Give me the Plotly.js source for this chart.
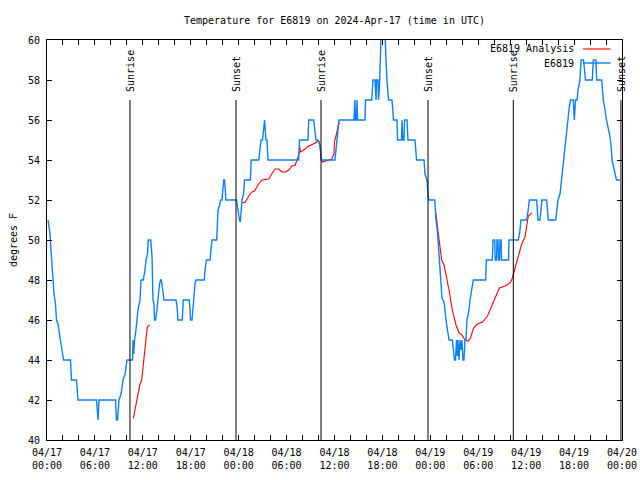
<!DOCTYPE html>
<html>
<head>
<meta charset="utf-8">
<script src="https://cdn.plot.ly/plotly-3.0.1.min.js"></script>
<style>html,body{margin:0;padding:0;background:#fff;}#chart{width:640px;height:480px;}</style>
</head>
<body>
<div id="chart"></div>
<script>
// ---- data (hours since 2024-04-17 00:00 UTC, degrees F) ----
const obsName = "E6819";
const anaName = "E6819 Analysis";

const obsHours = [0.13,0.25,0.38,0.50,0.63,0.75,0.88,1.06,1.19,1.38,1.57,1.75,2.00,2.07,2.94,3.07,3.69,3.88,6.20,6.30,6.39,6.51,8.58,8.70,8.83,9.02,9.27,9.52,9.77,10.02,10.64,10.71,10.77,10.86,10.96,11.14,11.39,11.65,11.77,12.06,12.27,12.40,12.58,12.68,12.99,13.15,13.27,13.40,13.46,13.59,13.77,13.90,14.09,14.21,14.31,14.46,14.59,14.65,16.15,16.28,16.40,16.94,17.07,17.82,17.91,17.97,18.16,18.28,18.41,18.53,18.66,19.70,19.78,19.97,20.41,20.54,20.66,21.25,21.31,21.41,21.60,21.73,21.91,22.00,22.13,22.23,22.33,22.41,23.73,23.85,23.98,24.10,24.20,24.35,24.42,24.61,24.73,25.46,25.57,26.51,26.61,26.80,26.98,27.08,27.17,27.25,27.33,27.42,27.55,27.67,31.52,31.62,32.68,32.77,33.39,33.56,33.68,33.93,34.12,34.25,34.35,36.06,36.25,36.44,36.56,38.44,38.54,38.63,38.75,38.82,38.89,39.82,39.88,40.66,40.82,41.07,41.20,41.26,41.45,41.51,41.61,41.74,41.82,41.89,42.26,42.32,42.45,42.57,42.76,43.20,43.39,43.83,43.89,44.39,44.45,44.55,44.70,44.77,45.08,45.20,46.08,46.27,47.21,47.33,47.58,47.71,47.83,48.55,48.71,48.90,49.08,49.27,49.46,49.71,49.96,50.27,50.34,50.75,50.93,51.03,51.15,51.28,51.38,51.46,51.59,51.71,51.84,51.96,52.09,52.21,52.34,52.46,52.59,52.84,52.97,53.22,53.38,54.93,55.01,55.76,55.85,56.06,56.12,56.29,56.35,56.47,56.54,56.66,56.73,56.85,56.91,57.79,57.85,59.02,59.17,59.35,60.07,60.32,60.39,61.32,61.48,61.73,61.98,62.57,62.77,63.70,63.99,64.24,64.42,64.61,64.80,64.93,65.11,65.18,65.36,65.55,65.90,66.03,66.18,66.37,66.49,66.74,66.87,67.18,67.30,67.43,68.28,68.41,68.74,68.83,69.46,69.66,69.87,70.06,70.43,70.62,70.75,71.00,71.31,71.75];
const obsTemp = [51,50.7,50.3,49.5,48.7,48,47.3,46.8,46,45.8,45.2,44.8,44.2,44,44,43,43,42,42,41,41,42,42,41,41,42,42.3,43,43.3,44,44,44,45,44.3,45,45.5,46.5,47,48,48,48.5,49,49.3,50,50,49.2,47,46.8,46,46,46.5,47.2,47.8,48,48,47.6,47.2,47,47,46.7,46,46,47,47,46.5,46,46,46.7,47.3,47.8,48,48,48.5,49,49,49.5,50,50,51,51.5,51.7,52,52,52.5,53,53,52.5,52,52,51.7,51.2,51,50.9,51.8,52,52.3,53,53,54,54,54.5,55,55,55.5,56,56,55.5,55,55,54,54,55,55,56,56,55.3,55,55,54.8,54.5,54,54,54.8,55.5,56,56,57,56,56,57,56,56,57,57,58,58,57,58,58,57,57.5,59,60,61,61,60,59,58,57,57,56,56,55,55,56,55,55,56,56,55,55,54,54,53.3,53,52.2,52,52,51,50.4,49.5,48.2,47.1,46.9,46,45.2,45,45,44.3,44,44,45,44.2,45,44,45,44.5,45,44,44,45,45,46,46.5,47,47.5,48,48,49,49,50,50,49,49,50,50,49,49,50,50,49,49,50,50,50.3,51,51,51.7,52,52,51,51,52,52,51,51,52,52.3,53,53.5,54.3,55,55.5,56,56.5,57,57,56,57,57,57.5,58,59,59,58.5,58,58,59,59,58,58,57,56.5,56,55.3,54.8,54,53.5,53,53];

const anaHours = [10.81,11.02,11.23,11.43,11.65,11.86,11.98,12.11,12.27,12.40,12.56,12.90,null,24.42,24.83,25.26,25.67,25.98,26.42,26.92,27.76,28.14,28.39,28.55,29.01,29.43,29.84,30.27,30.68,31.09,31.30,31.52,31.64,31.72,31.93,32.34,32.56,33.18,33.60,33.93,34.12,34.25,34.35,34.50,34.85,35.19,35.65,35.94,36.00,36.19,36.50,36.69,null,48.67,48.90,49.15,49.42,49.71,50.05,50.34,50.75,51.21,51.59,51.96,52.34,52.72,53.03,53.41,53.91,54.53,55.16,55.72,56.16,56.64,57.35,57.98,58.23,58.60,59.02,59.44,59.85,60.07,60.27,60.69];
const anaTemp = [41.08,41.5,41.9,42.33,42.8,43,43.5,44,44.67,45.33,45.67,45.75,null,51.85,51.9,52.2,52.4,52.45,52.75,53,53.05,53.3,53.5,53.55,53.55,53.4,53.4,53.5,53.7,53.75,54,54.25,54.7,54.4,54.45,54.55,54.65,54.75,54.85,54.95,54.9,54.4,54.0,53.9,53.95,54.0,54.05,54.3,54.95,55.2,55.8,55.85,null,51.4,50.7,50,49,48.75,48.1,47.5,46.5,45.75,45.35,45.25,45.0,44.95,45.1,45.6,45.8,45.9,46.2,46.7,47.1,47.6,47.7,47.85,48.05,48.6,49.1,49.8,50.15,50.7,51.2,51.35];

const sunEvents = ["Sunrise","Sunset","Sunrise","Sunset","Sunrise","Sunset"];
const sunHours = [10.39,23.67,34.31,47.71,58.39,71.87];
const sunLineTop = 57;

const titleText = "Temperature for E6819 on 2024-Apr-17 (time in UTC)";
const yTitle = "degrees F";

// ---- helpers ----
const base = Date.UTC(2024,3,17,0,0,0);
function pad(n){return (n<10?"0":"")+n;}
function toDate(h){
  if(h===null) return null;
  const d = new Date(base + Math.round(h*3600)*1000);
  return d.getUTCFullYear()+"-"+pad(d.getUTCMonth()+1)+"-"+pad(d.getUTCDate())+" "+pad(d.getUTCHours())+":"+pad(d.getUTCMinutes())+":"+pad(d.getUTCSeconds());
}

const font = {family:"DejaVu Sans Mono, monospace", size:10, color:"#000"};
const blue = "#0a80ff";
const red = "#ff0000";

const traces = [
  {x: anaHours.map(toDate), y: anaTemp, name: anaName, type:"scatter", mode:"lines",
   line:{color:red, width:1.1}, connectgaps:false, showlegend:false, cliponaxis:true},
  {x: obsHours.map(toDate), y: obsTemp, name: obsName, type:"scatter", mode:"lines",
   line:{color:blue, width:1.4}, showlegend:false, cliponaxis:true}
];

const shapes = [];
const annotations = [];
sunHours.forEach((h,i)=>{
  shapes.push({type:"line", xref:"x", yref:"y", x0:toDate(h), x1:toDate(h), y0:40, y1:sunLineTop,
    line:{color:"#000", width:1}, layer:"above"});
  annotations.push({xref:"x", yref:"y", x:toDate(h), y:sunLineTop, text:sunEvents[i], textangle:-90,
    showarrow:false, xanchor:"center", yanchor:"bottom", yshift:6, font:font});
});

// legend (gnuplot style: text then sample line, right side)
const legendItems = [{name:anaName,color:red,width:1.1},{name:obsName,color:blue,width:1.4}];
legendItems.forEach((it,i)=>{
  const yp = 1 - (9 + i*14)/400;
  annotations.push({xref:"paper", yref:"paper", x:0.92, y:yp, text:it.name, showarrow:false,
    xanchor:"right", yanchor:"middle", font:font});
  shapes.push({type:"line", xref:"paper", yref:"paper", x0:0.932, x1:0.98, y0:yp, y1:yp,
    line:{color:it.color, width:it.width}});
});

const layout = {
  width:640, height:480,
  margin:{l:47, r:18, t:40, b:40, pad:0},
  paper_bgcolor:"#fff", plot_bgcolor:"#fff",
  font:font,
  showlegend:false,
  title:{text:titleText, font:font, x:0.5, xref:"paper", xanchor:"center", y:1-20/480, yref:"container", yanchor:"middle"},
  xaxis:{
    type:"date",
    range:[toDate(0), toDate(72)],
    tick0:toDate(0), dtick:6*3600000,
    tickformat:"%m/%d<br>%H:%M",
    ticks:"inside", ticklen:5, tickcolor:"#000", tickwidth:1,
    minor:{dtick:2*3600000, tick0:toDate(0), ticks:"inside", ticklen:5, tickcolor:"#000", showgrid:false},
    showline:true, linecolor:"#000", linewidth:1, mirror:"ticks",
    showgrid:false, zeroline:false,
    tickfont:font, automargin:false, ticklabelstandoff:3
  },
  yaxis:{
    range:[40,60], dtick:2, tick0:40,
    ticks:"inside", ticklen:5, tickcolor:"#000", tickwidth:1,
    showline:true, linecolor:"#000", linewidth:1, mirror:"ticks",
    showgrid:false, zeroline:false,
    tickfont:font, automargin:false, ticklabelstandoff:4,
    title:{text:yTitle, font:font, standoff:8}
  },
  shapes:shapes,
  annotations:annotations
};

Plotly.newPlot("chart", traces, layout, {staticPlot:true, displayModeBar:false});
</script>
</body>
</html>
